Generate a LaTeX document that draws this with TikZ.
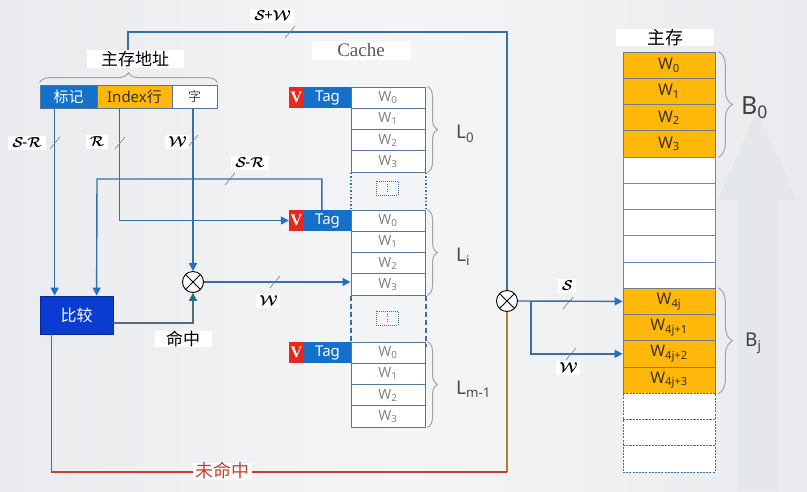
\documentclass[tikz,border=0pt]{standalone}
\usepackage{fontspec}
\setmainfont{Noto Sans}
\newfontfamily\cjk{Noto Sans CJK SC}
\newfontfamily\serifv{Liberation Serif}
\usetikzlibrary{arrows.meta,decorations.pathreplacing,calc}
\newcommand\fsz[1]{\fontsize{#1}{#1}\selectfont}
\newcommand\calf[1]{{\usefont{OMS}{cmsy}{b}{n}#1}}
\definecolor{bgE}{HTML}{E9EBEE}
\definecolor{bgC}{HTML}{F4F5F6}
\definecolor{wm}{HTML}{E1E4E8}
\definecolor{ln}{HTML}{3A6EA5}
\definecolor{ah}{HTML}{1F6FCB}
\definecolor{tagblue}{HTML}{1470C8}
\definecolor{vred}{HTML}{E8281E}
\definecolor{orng}{HTML}{FFB80A}
\definecolor{cellb}{HTML}{56759A}
\definecolor{mcellb}{HTML}{6F7C85}
\definecolor{wgray}{HTML}{858585}
\definecolor{cmpblue}{HTML}{0A3CD2}
\definecolor{missred}{HTML}{C8402D}
\definecolor{missbrown}{HTML}{B8782E}
\definecolor{hitline}{HTML}{5A6B78}
\definecolor{hittip}{HTML}{1E6E7A}
\definecolor{brc}{HTML}{A0A4A8}
\definecolor{memtext}{HTML}{3A3020}
\begin{document}
\begin{tikzpicture}[x=1pt,y=-1pt,
  wire/.style={draw=ln, line width=1.4pt},
  arr/.style={wire, -{Triangle[length=8pt,width=8pt,color=ah]}},
  tick/.style={draw=black!50, line width=0.6pt},
  slab/.style={fill=white, inner xsep=4pt, inner ysep=2.5pt, font=\fsz{15}},
  clab/.style={fill=white, inner sep=0pt, font=\cjk\fsz{17}},
  addr/.style={draw=cellb, line width=0.8pt, minimum height=23, inner sep=0pt, font=\cjk\fsz{15}},
  vbox/.style={fill=vred, minimum width=15, minimum height=21, inner sep=0pt, text=white, font=\serifv\bfseries\fsz{16}},
  tagbox/.style={fill=tagblue, minimum width=47, minimum height=21, inner sep=0pt, text=white, font=\fsz{15}},
  wcell/.style={draw=cellb, line width=1pt, fill=white, minimum width=74, minimum height=21.25, inner sep=0pt, text=wgray, font=\fsz{14}},
  mcell/.style={draw=mcellb, line width=0.8pt, minimum width=92, minimum height=26.25, inner sep=0pt, text=memtext, font=\fsz{16}},
  gbrace/.style={draw=brc, line width=1pt, decorate, decoration={brace, amplitude=10pt, raise=2pt}},
  mbrace/.style={draw=brc, line width=1pt, decorate, decoration={brace, amplitude=14pt, raise=3pt}},
  llab/.style={anchor=west, inner sep=0pt, text=black!70, font=\fsz{19}},
  mux/.style={circle, draw=black, line width=0.9pt, fill=white, minimum size=21, inner sep=0pt,
    path picture={\draw[line width=0.9pt] (path picture bounding box.north west) -- (path picture bounding box.south east)
      (path picture bounding box.north east) -- (path picture bounding box.south west);}},
  dotw/.style={draw=ln, line width=2pt, dash pattern=on 1.5pt off 2pt},
  dashw/.style={draw=ln, line width=2pt, dash pattern=on 5pt off 3pt},
  smallbox/.style={draw=ln, line width=1pt, dash pattern=on 1pt off 1pt, minimum width=22, minimum height=14, inner sep=0pt}
]
% background
\shade[left color=bgE, right color=bgE, middle color=bgC] (0,0) rectangle (807,491);
\useasboundingbox (0,0) rectangle (807,491);
\fill[wm, opacity=0.5] (737,491) -- (737,200) -- (718,200) -- (757,110) -- (797,200) -- (778,200) -- (778,491) -- cycle;

% address fields
\node[addr, fill=tagblue, text=white, minimum width=57] (tagf) at (68.5,96.5) {标记};
\node[addr, fill=orng, text=black!80, minimum width=75] (idxf) at (134.5,96.5) {{\fontspec{Noto Sans}Index}行};
\node[addr, fill=white, text=black!70, minimum width=45, font=\cjk\fsz{13}] (wf) at (194.5,96.5) {字};
\draw[gbrace] (tagf.north west) -- (wf.north east);
\coordinate (bt) at (128,66);
\coordinate (sturn) at (507,32);

% cache blocks
\foreach \k/\yy/\sub in {0/87/0, 1/210/i, 2/342/{m-1}} {
  \node[vbox] (v\k) at (296.5,\yy+10.5) {V};
  \node[tagbox] (t\k) at (327.5,\yy+10.5) {Tag};
  \foreach \i in {0,...,3}
    \node[wcell] (c\k w\i) at (388,{\yy+10.625+21.25*\i}) {W\textsubscript{\i}};
  \draw[gbrace] (c\k w0.north east) -- (c\k w3.south east);
  \node[llab] (L\k) at (456,\yy+47) {L\textsubscript{\sub}};
}
\draw[dotw] (c0w3.south west) -- (c1w0.north west);
\draw[dotw] (c0w3.south east) -- (c1w0.north east);
\node[smallbox] (dd1) at (387,188) {};
\draw[draw=ln, line width=1pt, dash pattern=on 1pt off 1.5pt] ([yshift=-3pt]dd1.north) -- ([yshift=3pt]dd1.south);
\draw[dashw] (c1w3.south west) -- (c2w0.north west);
\draw[dashw] (c1w3.south east) -- ([yshift=-5pt]c2w0.north east);
\node[smallbox] (dd2) at (387,318) {};
\draw[draw=ln, line width=1pt, dash pattern=on 1pt off 1.5pt] ([yshift=-3pt]dd2.north) -- ([yshift=3pt]dd2.south);

% compare box and muxes
\node[fill=cmpblue, draw=cmpblue!70!black, line width=0.8pt, minimum width=73, minimum height=38, inner sep=0pt, text=white, font=\cjk\fsz{16}] (cmp) at (76.5,315) {比较};
\node[mux] (mux1) at (193,282) {};
\node[mux] (mux2) at (507,301) {};

% main memory
\foreach \k/\t in {0/0,1/1,2/2,3/3}
  \node[mcell, fill=orng] (m\k) at (669,{52+26.25*(\k+0.5)}) {W\textsubscript{\t}};
\foreach \k in {4,...,8}
  \node[mcell, fill=white, draw=ln!80] (m\k) at (669,{52+26.25*(\k+0.5)}) {};
\foreach \k/\t in {9/4j,10/4j+1,11/4j+2,12/4j+3}
  \node[mcell, fill=orng] (m\k) at (669,{52+26.25*(\k+0.5)}) {W\textsubscript{\t}};
\foreach \k in {13,14,15}
  \node[mcell, fill=white, draw=ln, dash pattern=on 2pt off 1.2pt] (m\k) at (669,{52+26.25*(\k+0.5)}) {};
\draw[mbrace] (m0.north east) -- (m3.south east);
\draw[mbrace] (m9.north east) -- (m12.south east);
\node[anchor=west, inner sep=0pt, text=black!75, font=\fsz{25}] (B0) at (741,108) {B\textsubscript{0}};
\node[anchor=west, inner sep=0pt, text=black!75, font=\fsz{19}] (Bj) at (745,343) {B\textsubscript{j}};
\node[fill=white, minimum width=98, minimum height=17, inner sep=0pt, font=\cjk\fsz{18}] (memlab) at (665,37.5) {主存};

% wires
\draw[wire] (bt) |- (sturn) -- (mux2.north);
\draw[arr] ([xshift=15pt]tagf.south west) -- ([xshift=15pt]cmp.north west);
\draw[arr] ([xshift=23pt]idxf.south west) |- (v1.west);
\draw[arr] (wf.south -| mux1) -- (mux1.north);
\coordinate (srturn) at (97,179);
\draw[arr] ([xshift=18pt]t1.north west) |- (srturn) -- ([xshift=57pt]cmp.north west);
\draw[draw=hitline, line width=1.2pt, -{Triangle[length=8pt,width=8pt,color=hittip]}] ([yshift=-8pt]cmp.east) -| (mux1.south);
\draw[arr] (mux1.east) -- (c1w3.west |- mux1);
\coordinate (br) at (531,301);
\draw[arr] (mux2.east) -- (m9.west);
\draw[arr] (br) |- (m11.west);
\coordinate (mc) at (507,472);
\draw[draw=missbrown, line width=1.4pt] (mux2.south) -- (mc);
\draw[draw=missred, line width=1.4pt] (mc) -| ([xshift=12pt]cmp.south west);

% ticks
\foreach \tx/\ty in {55/143,120/143,193/141,230/179,290/32,275/282,568/303,571/354}
  \draw[tick] (\tx,\ty) ++(-5,6) -- ++(10,-12);

% labels
\node[clab, minimum width=97, minimum height=18] (addrlab) at (135,59) {主存地址};
\node[fill=white, minimum width=98, minimum height=19, inner sep=0pt, text=black!65, font=\serifv\fsz{19}] (cachelab) at (361,50) {Cache};
\node[slab] (lsr1) at (27,143) {\calf{S}-\calf{R}};
\node[slab] (lr) at (97,142) {\calf{R}};
\node[slab] (lw1) at (177,142) {\calf{W}};
\node[slab] (lsr2) at (250,163) {\calf{S}-\calf{R}};
\node[slab] (lsw) at (272,16) {\calf{S}+\calf{W}};
\node[slab] (lw2) at (268,301) {\calf{W}};
\node[slab] (ls) at (567,286) {\calf{S}};
\node[slab] (lw3) at (568,368) {\calf{W}};
\node[clab, minimum width=57, minimum height=13] (hitlab) at (183,339) {命中};
\node[clab, text=missred, minimum width=59, minimum height=17, font=\cjk\fsz{18}] (misslab) at (222,471) {未命中};
\end{tikzpicture}
\end{document}
